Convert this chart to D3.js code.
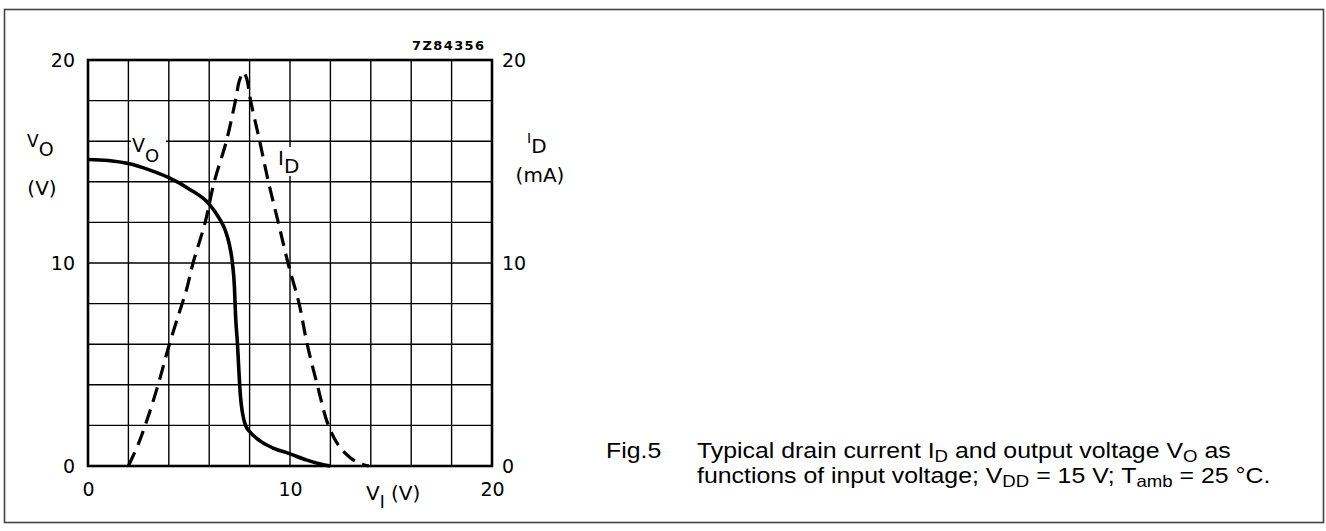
<!DOCTYPE html>
<html>
<head>
<meta charset="utf-8">
<script src="https://cdn.jsdelivr.net/npm/d3@7/dist/d3.min.js"></script>
<style>
  html, body { margin: 0; padding: 0; background: #fff; }
  svg { display: block; }
</style>
</head>
<body>
<svg id="chart" width="1326" height="531"></svg>
<script>
// ---- data ----
const vI_vo = [0, 1, 2, 3, 4, 5, 6, 6.5, 6.8, 7.0, 7.15, 7.25, 7.3, 7.4, 7.48, 7.55, 7.65, 7.8, 8.0, 8.5, 9.2, 10, 10.8, 11.5, 12];
const vO    = [15.1, 15.05, 14.9, 14.6, 14.2, 13.65, 12.9, 12.2, 11.6, 10.9, 10.0, 8.8, 7.5, 6.0, 4.5, 3.4, 2.6, 2.0, 1.7, 1.25, 0.87, 0.6, 0.3, 0.1, 0];
const vI_id = [2, 2.5, 3, 3.5, 4, 4.5, 4.88, 5.2, 5.8, 6.25, 6.85, 7.3, 7.5, 7.7, 7.85, 8.05, 8.5, 8.93, 9.42, 9.9, 10.45, 10.85, 11.35, 11.9, 12.45, 13.0, 13.4, 13.9];
const iD    = [0, 1.1, 2.5, 4.1, 5.9, 7.5, 8.7, 10, 12, 14, 16, 18, 19.0, 19.4, 19.1, 18, 16, 14, 12, 10, 8, 6, 4, 2, 0.95, 0.4, 0.15, 0];
const leftTicks = [0, 10, 20];
const rightTicks = [0, 10, 20];
const bottomTicks = [0, 10, 20];
const gridValues = [2, 4, 6, 8, 10, 12, 14, 16, 18];

// ---- layout ----
const svg = d3.select("#chart");
const x = d3.scaleLinear().domain([0, 20]).range([88, 492]);
const y = d3.scaleLinear().domain([0, 20]).range([466, 60]);
const y2 = d3.scaleLinear().domain([0, 20]).range([466, 60]);
const chartFont = "'DejaVu Sans', sans-serif";

svg.append("rect").attr("x", 0).attr("y", 0).attr("width", 1326).attr("height", 531).attr("fill", "#fff");
svg.append("rect").attr("x", 4.5).attr("y", 9.5).attr("width", 1319).attr("height", 513)
  .attr("fill", "none").attr("stroke", "#444").attr("stroke-width", 1.6);

// grid
const g = svg.append("g");
g.selectAll("line.vg").data(gridValues).join("line")
  .attr("x1", d => x(d)).attr("x2", d => x(d)).attr("y1", y(0)).attr("y2", y(20))
  .attr("stroke", "#000").attr("stroke-width", 1.4);
g.selectAll("line.hg").data(gridValues).join("line")
  .attr("y1", d => y(d)).attr("y2", d => y(d)).attr("x1", x(0)).attr("x2", x(20))
  .attr("stroke", "#000").attr("stroke-width", 1.4);

// inline label backgrounds (mask grid)
svg.append("rect").attr("x", 131).attr("y", 134).attr("width", 35).attr("height", 30).attr("fill", "#fff");
svg.append("rect").attr("x", 279).attr("y", 147).attr("width", 26).attr("height", 29).attr("fill", "#fff");

// frame
svg.append("rect").attr("x", x(0)).attr("y", y(20)).attr("width", x(20) - x(0)).attr("height", y(0) - y(20))
  .attr("fill", "none").attr("stroke", "#000").attr("stroke-width", 2.6);

// axes
function styleAxis(sel) {
  sel.select(".domain").remove();
  sel.selectAll(".tick line").remove();
  sel.selectAll("text").attr("font-family", chartFont).attr("font-size", 19).attr("fill", "#000");
}
svg.append("g").attr("transform", `translate(${x(0)},0)`)
  .call(d3.axisLeft(y).tickValues(leftTicks).tickSize(0).tickPadding(13).tickFormat(d3.format("d")))
  .call(styleAxis);
svg.append("g").attr("transform", `translate(${x(20)},0)`)
  .call(d3.axisRight(y2).tickValues(rightTicks).tickSize(0).tickPadding(10).tickFormat(d3.format("d")))
  .call(styleAxis);
svg.append("g").attr("transform", `translate(0,${y(0)})`)
  .call(d3.axisBottom(x).tickValues(bottomTicks).tickSize(0).tickPadding(17).tickFormat(d3.format("d")))
  .call(styleAxis);

// curves
const lineVO = d3.line().x(d => x(d[0])).y(d => y(d[1])).curve(d3.curveMonotoneX);
const lineID = d3.line().x(d => x(d[0])).y(d => y2(d[1])).curve(d3.curveCatmullRom.alpha(0.5));
svg.append("path").datum(vI_vo.map((v, i) => [v, vO[i]])).attr("d", lineVO)
  .attr("fill", "none").attr("stroke", "#000").attr("stroke-width", 3.6).attr("stroke-linejoin", "round");
svg.append("path").datum(vI_id.map((v, i) => [v, iD[i]])).attr("d", lineID)
  .attr("fill", "none").attr("stroke", "#000").attr("stroke-width", 3.2).attr("stroke-dasharray", "15,8");

// text helpers
function subText(px, py, main, sub, size, subSize, subDy) {
  const t = svg.append("text").attr("x", px).attr("y", py)
    .attr("font-family", chartFont).attr("font-size", size).attr("fill", "#000");
  t.append("tspan").text(main);
  t.append("tspan").attr("dy", subDy).attr("font-size", subSize).text(sub);
  return t;
}

// axis titles
subText(27, 147, "V", "O", 17, 19, 9);
svg.append("text").attr("x", 42).attr("y", 195).attr("text-anchor", "middle")
  .attr("font-family", chartFont).attr("font-size", 20).text("(V)");
subText(527, 143, "I", "D", 14, 20, 10);
svg.append("text").attr("x", 540).attr("y", 182).attr("text-anchor", "middle")
  .attr("font-family", chartFont).attr("font-size", 20).text("(mA)");
const xt = svg.append("text").attr("x", 366).attr("y", 500)
  .attr("font-family", chartFont).attr("font-size", 20);
xt.append("tspan").text("V");
xt.append("tspan").attr("dy", 8).attr("font-size", 17).text("I");
xt.append("tspan").attr("dy", -8).text(" (V)");

// inline series labels
subText(132, 152, "V", "O", 19, 18, 10);
subText(278, 165, "I", "D", 20, 20, 8);

// figure code
svg.append("text").attr("x", 412).attr("y", 50)
  .attr("font-family", chartFont).attr("font-size", 13).attr("font-weight", "bold")
  .attr("letter-spacing", 1.4).text("7Z84356");

// caption (glyphs slightly wider than Arial in the reference -> horizontal stretch)
const capFont = "'Liberation Sans', Arial, sans-serif";
const cap = svg.append("g").attr("font-family", capFont).attr("font-size", 22).attr("fill", "#000");
cap.append("text").attr("transform", "translate(606,458) scale(1.13,1)").text("Fig.5");
const c1 = cap.append("text").attr("transform", "translate(697,458) scale(1.13,1)");
c1.append("tspan").text("Typical drain current I");
c1.append("tspan").attr("dy", 4).attr("font-size", 16.5).text("D");
c1.append("tspan").attr("dy", -4).text(" and output voltage V");
c1.append("tspan").attr("dy", 4).attr("font-size", 16.5).text("O");
c1.append("tspan").attr("dy", -4).text(" as");
const c2 = cap.append("text").attr("transform", "translate(697,483) scale(1.13,1)");
c2.append("tspan").text("functions of input voltage; V");
c2.append("tspan").attr("dy", 4).attr("font-size", 16.5).text("DD");
c2.append("tspan").attr("dy", -4).text(" = 15 V; T");
c2.append("tspan").attr("dy", 4).attr("font-size", 16.5).text("amb");
c2.append("tspan").attr("dy", -4).text(" = 25 \u00B0C.");
</script>
</body>
</html>
